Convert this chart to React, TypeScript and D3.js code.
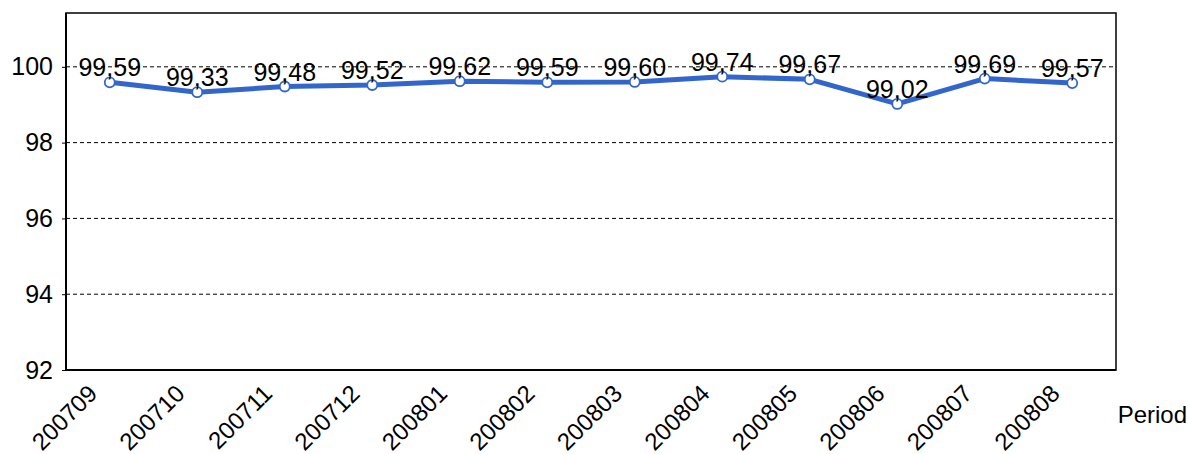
import { useEffect, useRef } from 'react'
import * as d3 from 'd3'

const periods = ['200709', '200710', '200711', '200712', '200801', '200802', '200803', '200804', '200805', '200806', '200807', '200808']
const values = [99.59, 99.33, 99.48, 99.52, 99.62, 99.59, 99.60, 99.74, 99.67, 99.02, 99.69, 99.57]
const yTicks = [92, 94, 96, 98, 100]

const App = () => {
  const svgRef = useRef<SVGSVGElement>(null)
  const W = 1189
  const H = 454
  const margin = { top: 13, right: 73, bottom: 84, left: 66 }
  const width = W - margin.left - margin.right
  const height = H - margin.top - margin.bottom

  useEffect(() => {
    const svg = d3.select(svgRef.current)
    svg.selectAll('*').remove()
    const font = 'Liberation Sans, Arial, sans-serif'

    const x = d3.scalePoint<string>().domain(periods).range([0, width]).padding(0.5)
    const y = d3.scaleLinear().domain([92, 101.42]).range([height, 0])

    const g = svg.append('g').attr('transform', `translate(${margin.left},${margin.top})`)

    // dashed gridlines
    yTicks.filter(t => t > 92).forEach(t => {
      g.append('line')
        .attr('x1', 0).attr('x2', width)
        .attr('y1', y(t)).attr('y2', y(t))
        .attr('stroke', '#000')
        .attr('stroke-width', 1)
        .attr('stroke-dasharray', '4,3')
    })

    // frame
    g.append('rect')
      .attr('width', width).attr('height', height)
      .attr('fill', 'none').attr('stroke', '#000').attr('stroke-width', 1.5)
    g.append('line').attr('x1', 0).attr('x2', 0).attr('y1', 0).attr('y2', height)
      .attr('stroke', '#000').attr('stroke-width', 2)
    g.append('line').attr('x1', 0).attr('x2', width).attr('y1', height).attr('y2', height)
      .attr('stroke', '#000').attr('stroke-width', 2)

    // y axis
    const yAxis = g.append('g')
      .call(d3.axisLeft(y).tickValues(yTicks).tickSize(4).tickPadding(9).tickFormat(d3.format('d')))
    yAxis.select('.domain').remove()
    yAxis.selectAll('text').style('font-family', font).style('font-size', '25px').attr('fill', '#000')

    // x labels
    periods.forEach(p => {
      g.append('text')
        .attr('transform', `translate(${x(p)! - 11},${height + 25}) rotate(-45)`)
        .attr('text-anchor', 'end')
        .style('font-family', font)
        .style('font-size', '24px')
        .attr('fill', '#000')
        .text(p)
    })

    const line = d3.line<number>()
      .x((_, i) => x(periods[i])!)
      .y(d => y(d))

    g.append('path')
      .datum(values)
      .attr('fill', 'none')
      .attr('stroke', '#3366cc')
      .attr('stroke-width', 5)
      .attr('stroke-linejoin', 'round')
      .attr('d', line)

    values.forEach((v, i) => {
      g.append('circle')
        .attr('cx', x(periods[i])!)
        .attr('cy', y(v))
        .attr('r', 5)
        .attr('fill', '#fff')
        .attr('stroke', '#3366cc')
        .attr('stroke-width', 1.8)

      g.append('text')
        .attr('x', x(periods[i])!)
        .attr('y', y(v) - 6)
        .attr('text-anchor', 'middle')
        .style('font-family', font)
        .style('font-size', '25px')
        .attr('fill', '#000')
        .text(v.toFixed(2).replace('.', ','))
    })

    svg.append('text')
      .attr('x', 1187)
      .attr('y', 423)
      .attr('text-anchor', 'end')
      .style('font-family', font)
      .style('font-size', '24px')
      .attr('fill', '#000')
      .text('Period')
  }, [])

  return (
    <svg ref={svgRef} width={W} height={H} style={{ position: 'absolute', left: 0, top: 0 }}></svg>
  )
}

export default App
